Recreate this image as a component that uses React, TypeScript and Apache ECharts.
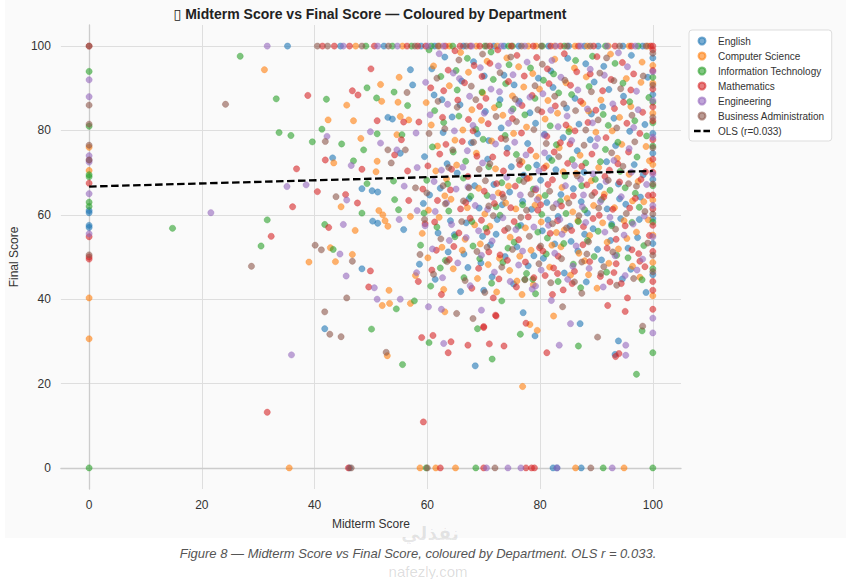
import React, { useEffect, useRef } from "react";
import * as echarts from "echarts";

const departments = [
  "English",
  "Computer Science",
  "Information Technology",
  "Mathematics",
  "Engineering",
  "Business Administration",
];
const deptColors = ["#1f77b4", "#ff7f0e", "#2ca02c", "#d62728", "#9467bd", "#8c564b"];

const xTicks = [0, 20, 40, 60, 80, 100];
const yTicks = [0, 20, 40, 60, 80, 100];

const englishPts: [number, number][] = [
  [0, 61], [0, 60.5], [0, 57.5], [0, 57],
  [46.2, 0], [82.3, 0], [83, 0], [87.3, 0],
  [35.2, 100], [57, 94.4], [57.4, 90.8], [53, 83.1], [53.8, 82.7], [43.2, 73.5], [48.4, 66.2], [50.2, 65.7],
  [51.2, 65.4], [50.3, 58.5], [51.2, 58], [55.2, 74.6], [55.8, 56.5], [48.4, 47.2], [41.8, 33], [68.5, 24.2],
  [70, 42.1], [77, 36.8], [79.1, 31.3], [87.1, 34.2], [93.9, 30.1], [93.3, 26.9], [94.6, 44.8],
  [61.2, 88.4], [63.5, 72.1], [64.8, 55.3], [66.1, 91.7], [67.4, 63.8], [68.9, 79.2], [69.5, 48.6], [70.3, 84.5],
  [71.8, 67.2], [72.4, 58.9], [73.6, 93.1], [74.2, 75.8], [75.9, 52.4], [76.3, 86.9], [77.1, 69.4], [78.5, 61.3],
  [79.2, 81.7], [80.4, 56.2], [81.6, 73.5], [82.3, 90.2], [83.7, 64.8], [84.1, 78.3], [85.5, 53.7], [86.2, 87.6],
  [87.8, 70.1], [88.4, 60.4], [89.1, 83.9], [90.6, 66.7], [91.3, 95.2], [92.7, 57.8], [93.4, 76.4], [94.8, 88.1],
  [95.2, 62.5], [96.7, 71.9], [97.3, 54.6], [98.6, 81.4], [60.4, 64.7], [62.8, 79.5], [65.3, 69.9], [66.9, 58.1],
  [68.2, 96.3], [70.7, 73.2], [71.2, 52.9], [73.1, 80.6], [74.6, 65.4], [75.4, 90.8], [77.8, 76.9], [78.9, 50.3],
  [80.1, 68.2], [81.9, 94.1], [83.2, 59.6], [84.7, 85.3], [86.6, 75.2], [87.3, 63.1], [89.6, 91.5], [90.2, 51.8],
  [91.8, 72.6], [93.9, 67.3], [95.9, 79.8], [97.8, 64.2], [99.1, 92.6], [59.5, 73.8], [61.9, 55.7], [63.1, 97.4],
  [64.4, 83.2], [67.8, 77.1], [69.2, 61.6], [72.9, 87.3], [76.6, 57.5], [79.7, 92.4], [82.8, 70.7], [85.9, 66.2],
  [88.9, 77.8], [91.1, 85.6], [94.3, 59.1], [96.2, 97.8], [98.3, 69.5], [62.3, 66.3], [65.8, 86.1], [70.1, 92.9],
  [74.9, 71.4], [78.2, 84.2], [81.2, 62.9], [84.9, 97.1], [87.9, 55.4], [92.2, 89.7], [95.6, 52.1], [60.8, 94.6],
  [66.5, 50.7], [73.3, 62.4], [80.8, 79.1], [86.9, 81.5], [93.1, 82.9],
  [58.6, 48.3], [61.4, 44.7], [63.7, 51.2], [65.9, 41.8], [67.2, 47.5], [69.8, 54.9], [71.5, 45.3], [73.8, 50.1],
  [75.3, 43.6], [77.9, 47.9], [80.6, 49.7], [82.6, 53.1], [84.3, 46.2], [86.7, 51.4], [88.2, 44.1], [90.9, 49.3],
  [92.5, 53.9], [96.1, 47.1], [98.8, 41.6], [59.3, 62.7], [64.1, 58.6], [68.4, 66.9], [72.2, 55.4], [76.9, 63.2],
  [81.4, 58.8], [85.3, 57.3], [89.4, 56.7], [94.1, 63.8], [97.6, 58.9], [62.6, 87.3], [70.9, 77.6], [79.4, 71.8],
  [88.1, 95.8], [91.9, 61.4],
  [44.6, 100], [52.3, 100], [58.9, 100], [66.4, 100], [71.8, 100], [76.2, 100], [81.5, 100], [85.1, 100],
  [90.3, 100], [94.7, 100], [98.2, 100], [61.3, 100], [73.6, 100], [87.9, 100],
  [100, 97.2], [100, 88.5], [100, 79.3], [100, 68.4], [100, 59.1], [100, 53.2], [100, 45.8], [100, 74.6],
];

const csPts: [number, number][] = [
  [0, 76], [0, 70.5], [0, 40.3], [0, 30.6],
  [35.5, 0], [58.7, 0], [61.5, 0], [65, 0], [86.3, 0], [94.9, 0],
  [31.1, 94.4], [45.7, 86], [51.7, 90.9], [51.9, 86.9], [55, 92.6], [54.8, 86.7], [46.9, 82.3], [42.4, 82.5],
  [48.2, 78.1], [43.4, 72.3], [51.1, 72.7], [50.9, 70.2], [44.7, 61.9], [51.4, 61], [52.1, 60], [47.2, 56.3],
  [52.5, 58.6], [55.2, 83.3], [56.7, 82.5], [54.6, 79], [57, 59.6], [53, 57.3], [39, 48.8], [42.8, 52.2],
  [43.7, 48.9], [46.7, 50.6], [52.9, 26.6], [52, 38.5], [53.3, 39], [53.2, 42.1], [57, 39], [63.1, 37],
  [78.2, 34], [79.5, 32.6], [76.9, 19.3], [82.4, 36], [75.9, 44.3], [76.8, 41.1], [88.6, 45.8], [96.4, 47.8],
  [60.7, 81.3], [62.1, 59.4], [63.9, 90.6], [65.2, 71.8], [66.7, 54.2], [67.9, 84.9], [69.1, 66.3], [70.6, 96.4],
  [71.4, 77.5], [72.8, 49.7], [73.9, 62.8], [75.1, 88.2], [76.8, 72.6], [77.4, 56.9], [78.7, 93.5], [79.8, 64.1],
  [80.9, 82.7], [82.1, 52.8], [83.4, 75.9], [84.6, 91.3], [85.8, 60.7], [86.4, 69.8], [87.6, 86.4], [88.8, 55.1],
  [89.9, 79.6], [91.4, 64.9], [92.5, 98.1], [93.7, 73.4], [94.9, 58.6], [96.1, 85.7], [97.4, 67.9], [98.8, 76.2],
  [61.5, 70.4], [64.2, 63.7], [65.9, 98.5], [68.4, 57.6], [69.8, 88.9], [72.1, 70.9], [73.4, 83.6], [75.7, 61.4],
  [76.2, 95.1], [78.1, 68.7], [80.2, 58.3], [81.4, 87.1], [83.9, 66.5], [85.2, 80.4], [86.9, 50.9], [88.2, 92.7],
  [90.4, 71.2], [91.9, 53.5], [94.1, 83.1], [95.8, 69.6], [97.9, 91.4], [99.2, 58.8], [59.8, 86.6], [62.6, 52.3],
  [64.9, 77.7], [67.3, 93.8], [70.2, 60.2], [71.9, 85.4], [74.7, 54.7], [77.6, 80.8], [79.3, 73.9], [82.6, 96.9],
  [84.3, 56.4], [87.1, 74.1], [89.5, 62.2], [92.8, 79.9], [96.4, 63.3], [98.1, 96.2], [61.1, 95.3], [63.4, 68.5],
  [66.3, 80.1], [68.7, 74.6], [72.6, 65.2], [75.3, 79.3], [79.9, 89.8], [81.1, 71.6], [84.8, 63.9], [88.6, 84.6],
  [93.2, 61.7], [95.3, 92.3], [97.1, 55.9], [60.2, 61.1], [69.4, 53.1], [74.1, 97.2], [78.4, 51.6], [83.1, 84.1],
  [86.1, 94.8], [90.8, 87.2], [94.5, 76.7], [99.4, 72.8],
  [57.9, 45.6], [60.1, 49.8], [62.9, 42.3], [64.6, 47.2], [66.2, 51.6], [68.9, 44.9], [70.8, 48.2], [72.3, 41.7],
  [74.6, 46.8], [76.4, 50.2], [78.8, 43.4], [81.7, 47.6], [83.7, 52.4], [85.4, 45.7], [87.9, 49.1], [90.1, 42.6],
  [92.2, 48.5], [93.9, 51.9], [97.7, 45.2], [59.1, 55.6], [63.1, 64.5], [67.1, 61.7], [71.1, 57.3], [74.4, 66.8],
  [79.1, 62.3], [82.9, 55.8], [86.7, 58.6], [91.1, 58.1], [95.4, 54.4], [98.4, 63.1], [61.8, 76.3], [69.6, 82.4],
  [77.1, 90.3], [84.1, 70.2], [89.1, 68.1],
  [47.3, 100], [55.6, 100], [62.1, 100], [68.7, 100], [72.4, 100], [77.9, 100], [82.6, 100], [88.4, 100],
  [92.1, 100], [95.8, 100], [99.1, 100], [63.9, 100], [79.3, 100], [86.2, 100],
  [100, 95.4], [100, 84.1], [100, 71.9], [100, 63.5], [100, 55.2], [100, 48.7], [100, 40.8], [100, 91.2],
];

const itPts: [number, number][] = [
  [0, 94], [0, 81], [0, 69.5], [0, 69], [0, 63], [0, 62], [0, 0],
  [59.8, 0], [68.6, 0], [91.2, 0], [100, 0],
  [26.8, 97.6], [33.2, 87.5], [33.7, 79.5], [35.8, 78.8], [39.6, 77.3], [14.8, 56.8], [31.6, 58.8], [30.5, 52.6],
  [42.1, 87.4], [49.3, 90.1], [51, 87.7], [54.1, 89.1], [56.5, 85.9], [41.3, 80.3], [44.8, 76.8], [51.1, 79.2],
  [48.7, 75.4], [46.9, 72.8], [49.3, 67.4], [48.4, 60.4], [41.8, 57.7], [55.5, 79], [54, 68], [54.2, 63.6],
  [54.9, 61.2], [43.3, 51.8], [50.1, 32.9], [55.6, 24.5], [54.5, 37.7], [57.7, 39.6], [60.3, 29.7], [71.5, 25.8],
  [68.9, 33], [73.2, 39.6], [76.5, 31.7], [86.8, 28.9], [97.1, 22.2], [78.7, 44.7], [77.3, 44.7],
  [60.9, 76.1], [62.4, 92.8], [63.8, 60.9], [65.6, 83.4], [66.4, 68.7], [68.1, 52.6], [69.7, 89.1], [70.9, 71.4],
  [72.2, 61.9], [73.8, 78.8], [74.5, 95.6], [76.1, 57.3], [77.3, 83.7], [78.8, 66.1], [80.6, 91.9], [81.3, 54.5],
  [82.9, 76.6], [84.4, 69.2], [85.6, 88.5], [86.8, 58.4], [88.1, 72.3], [89.3, 97.6], [90.9, 63.6], [92.1, 81.2],
  [93.6, 50.4], [94.2, 70.3], [95.9, 86.8], [97.6, 61.8], [98.9, 78.7], [59.9, 68.2], [61.7, 57.1], [64.6, 74.9],
  [67.1, 97.1], [68.6, 80.3], [70.4, 56.8], [71.7, 92.1], [73.2, 67.6], [75.8, 74.3], [76.9, 62.4], [79.1, 87.6],
  [80.3, 60.1], [82.4, 93.4], [83.6, 63.2], [85.1, 79.7], [87.4, 66.9], [88.7, 90.4], [90.3, 56.1], [91.6, 75.5],
  [93.3, 95.9], [95.1, 66.4], [96.8, 82.3], [98.4, 52.7], [61.3, 84.7], [63.2, 49.2], [65.1, 94.2], [67.7, 64.4],
  [69.9, 77.9], [72.7, 86.1], [74.3, 52.1], [77.9, 71.2], [81.8, 81.1], [84.2, 53.2], [86.3, 96.6], [89.8, 68.4],
  [92.4, 65.8], [94.7, 91.2], [97.2, 73.7], [60.3, 99.1], [66.8, 72.7], [71.3, 98.6], [75.2, 85.1], [79.6, 55.9],
  [83.3, 88.9], [87.9, 61.2], [91.2, 83.8], [96.3, 58.2], [62.9, 81.9], [70.6, 64.6], [78.3, 94.8], [85.7, 73.1],
  [93.8, 77.2], [99.3, 87.8],
  [58.8, 52.8], [60.6, 43.1], [62.3, 47.4], [64.9, 54.8], [66.5, 45.1], [69.3, 49.6], [71.4, 43.8], [73.4, 48.7],
  [75.4, 53.5], [77.6, 46.1], [79.2, 41.3], [81.1, 50.7], [83.2, 44.2], [85.9, 48.3], [87.2, 42.7], [89.6, 50.1],
  [91.8, 46.4], [95.6, 49.8], [98.1, 44.6], [59.4, 60.4], [63.6, 67.3], [67.9, 58.4], [72.9, 59.9], [76.3, 68.2],
  [80.9, 64.6], [84.6, 60.3], [88.4, 53.9], [92.7, 57.4], [96.9, 65.1], [65.3, 89.6], [73.9, 91.1], [82.1, 72.9],
  [90.7, 72.6],
  [49.1, 100], [53.8, 100], [60.7, 100], [64.5, 100], [70.2, 100], [75.1, 100], [80.4, 100], [84.3, 100],
  [91.6, 100], [97.4, 100], [57.2, 100], [74.4, 100],
  [100, 92.6], [100, 81.8], [100, 76.3], [100, 66.9], [100, 58.3], [100, 47.2], [100, 27.3], [100, 86.7], [98.1, 32.5],
];

const mathPts: [number, number][] = [
  [0, 67.5], [0, 54.8], [0, 50], [0, 49.5], [0, 100],
  [46, 0], [62.3, 0], [70, 0], [77.5, 0], [78.5, 0], [79, 0],
  [38.8, 88.3], [36.8, 70.9], [40.5, 65.5], [36.1, 61.9], [32.3, 54.9], [31.6, 13.2], [59.3, 10.9], [50, 94.6],
  [46.7, 89.4], [47.7, 88.4], [51.1, 82.3], [41.9, 73], [48.4, 70.8], [45.5, 64.8], [47.6, 62.8], [42.5, 57],
  [55.8, 82], [58.5, 82], [55.4, 77.8], [54.2, 74.2], [56.5, 70.4], [56.7, 63.4], [49.9, 46.7], [49.6, 42.9],
  [59, 30.9], [61, 31.4], [64.2, 29.9], [63.7, 27.3], [67.2, 29.1], [71, 29.4], [70, 33.3], [72.2, 36],
  [71.7, 40.3], [72.1, 36.2], [70, 33.5], [73.6, 28.9], [77.5, 34.3], [81.2, 27.3], [82.2, 41.1], [92, 38.5],
  [94, 27.1], [93.4, 26.4], [95.1, 37.1], [95.5, 40.3], [85.7, 43.7], [83.1, 46.1], [80.9, 45.6], [92.4, 44.1],
  [93.1, 46.3], [93.5, 48.4], [97.7, 49], [83.2, 50.2],
  [60.6, 90.1], [61.8, 63.4], [63.3, 76.7], [64.7, 52.5], [65.4, 87.2], [67.2, 69.1], [68.3, 95.4], [69.6, 58.7],
  [70.8, 81.6], [71.6, 73.7], [72.9, 50.5], [74.4, 91.6], [75.6, 66.8], [76.7, 79.4], [77.9, 59.5], [79.4, 97.3],
  [80.7, 71.1], [81.8, 55.6], [82.7, 85.8], [83.8, 62.1], [85.3, 76.8], [86.5, 93.9], [87.7, 57.2], [88.5, 81.9],
  [89.7, 65.3], [91.1, 89.4], [92.3, 70.6], [93.5, 54.2], [94.6, 96.1], [95.7, 74.9], [96.9, 63.9], [98.2, 84.3],
  [59.6, 57.9], [62.7, 83.1], [64.1, 65.9], [66.2, 77.4], [67.6, 59.2], [69.3, 85.7], [71.1, 95.9], [72.3, 67.4],
  [73.7, 56.3], [75.1, 82.8], [76.4, 71.9], [78.6, 88.3], [79.9, 52.2], [81.2, 78.6], [82.2, 68.3], [84.3, 98.2],
  [85.9, 64.5], [87.2, 86.9], [89.2, 74.4], [90.5, 59.9], [92.6, 92.1], [94.1, 67.8], [95.4, 81.7], [97.5, 50.8],
  [98.7, 70.2], [60.1, 71.6], [63.7, 94.3], [65.9, 61.4], [68.8, 73.9], [70.4, 87.6], [73.1, 78.1], [74.8, 61.7],
  [77.2, 92.9], [78.3, 75.3], [80.3, 84.4], [83.1, 58.6], [84.9, 72.2], [86.2, 79.9], [88.3, 67.1], [90.1, 97.5],
  [91.7, 78.3], [93.2, 85.2], [96.1, 89.6], [99.2, 64.6], [61.6, 51.6], [64.9, 98.9], [67.3, 82.6], [70.1, 65.6],
  [72.5, 99.1], [76.2, 54.1], [79.2, 65.9], [81.6, 91.1], [84.6, 81.3], [87.6, 52.9], [89.9, 84.8], [92.9, 61.3],
  [95.1, 57.4], [97.7, 79.3], [62.2, 74.4], [66.6, 91.3], [71.9, 62.7], [75.9, 97.8], [80.1, 62.4], [85.4, 90.7],
  [91.5, 69.1], [96.6, 93.4], [73.5, 70.4], [82.5, 74.9],
  [58.4, 44.2], [60.8, 46.9], [62.5, 41.1], [63.9, 49.4], [65.6, 55.7], [67.9, 42.6], [69.1, 47.3], [70.9, 51.2],
  [72.7, 44.8], [74.2, 49.2], [75.8, 42.9], [77.4, 48.8], [78.9, 45.1], [80.5, 51.4], [82.4, 47.4], [84.1, 42.2],
  [86.1, 46.6], [88.8, 48.9], [90.7, 45.4], [91.9, 52.1], [94.4, 43.7], [96.3, 51.7], [98.6, 47.7], [59.2, 66.1],
  [61.3, 58.3], [64.3, 70.8], [66.8, 62.9], [68.1, 79.9], [70.6, 55.9], [73.3, 64.9], [75.4, 58.4], [77.7, 68.6],
  [79.6, 61.1], [81.4, 67.2], [83.6, 77.1], [85.6, 56.3], [87.4, 71.5], [89.4, 59.1], [91.3, 64.2], [93.8, 72.1],
  [95.9, 61.6], [97.9, 68.4], [99.4, 55.1], [62.9, 89.4], [69.7, 92.8], [76.8, 85.9], [81.3, 94.6], [88.9, 93.4],
  [94.8, 86.7], [74.1, 74.6],
  [41.4, 100], [43.5, 100], [46.2, 100], [50.6, 100], [56.4, 100], [59.7, 100], [63.2, 100], [65.8, 100],
  [69.3, 100], [71.1, 100], [74.9, 100], [78.8, 100], [81.9, 100], [83.6, 100], [86.8, 100], [89.5, 100],
  [93.3, 100], [96.2, 100], [99.6, 100], [100, 100], [58.3, 100], [67.6, 100],
  [100, 99.1], [100, 94.2], [100, 89.8], [100, 85.6], [100, 82.3], [100, 77.8], [100, 73.2], [100, 70.1],
  [100, 64.7], [100, 61.4], [100, 57.5], [100, 51.3], [100, 44.2], [100, 42.1], [100, 37.6],
];

const engPts: [number, number][] = [
  [0, 92], [0, 88], [0, 74], [0, 73], [0, 72.5], [0, 65], [0, 55.5],
  [70.5, 0], [74.3, 0], [76.6, 0], [83, 0], [92.8, 0],
  [31.6, 100], [35.1, 66.7], [38.5, 67.1], [21.6, 60.5], [35.9, 26.8], [42.2, 78.6], [49.9, 79.7], [51.7, 77],
  [46.5, 71.7], [45.7, 63.5], [45.1, 57.7], [58, 79.4], [54.6, 75.4], [58.2, 71.2], [55.9, 66.8], [58.2, 61],
  [55, 58.9], [44.5, 50.7], [45.6, 45.5], [50.6, 42.7], [55.2, 40], [51.1, 40], [62.9, 29.5], [69.6, 37.4],
  [62.5, 37.6], [60.2, 38.2], [82, 39.7], [83.4, 29.1], [85.4, 34.2], [95.2, 29.1], [95.2, 26.7], [79.2, 43.1],
  [97.2, 46.9], [85.8, 47.8],
  [60.5, 83.7], [62.5, 70.6], [64.3, 57.7], [65.7, 92.3], [67.1, 75.2], [68.5, 62.2], [70.1, 84.1], [71.5, 53.8],
  [72.6, 95.3], [74.1, 68.9], [75.5, 77.2], [76.9, 51.4], [78.2, 87.9], [79.5, 63.6], [80.8, 74.7], [82.1, 96.6],
  [83.5, 58.9], [84.8, 83.4], [86.1, 71.7], [87.5, 61.9], [88.9, 94.5], [90.2, 78.1], [91.5, 55.9], [92.9, 86.3],
  [94.4, 64.3], [95.8, 75.7], [97.1, 89.3], [98.5, 59.7], [59.7, 91.4], [61.4, 60.8], [63.6, 86.2], [65.1, 66.1],
  [66.9, 54.6], [68.1, 81.2], [69.8, 72.3], [71.3, 89.8], [73.4, 59.3], [74.9, 84.6], [76.5, 64.7], [77.7, 96.2],
  [79.8, 70.4], [81.5, 57.5], [83.2, 80.9], [84.5, 66.9], [86.7, 89.6], [88.1, 58.2], [89.4, 69.7], [91.4, 93.1],
  [93.1, 72.9], [94.9, 55.2], [96.6, 80.7], [98.9, 67.2], [62.1, 98.2], [64.8, 79.9], [67.5, 88.1], [69.1, 56.2],
  [72.1, 76.8], [75.2, 93.2], [77.5, 74.2], [80.5, 88.7], [82.9, 62.6], [85.6, 77.6], [88.4, 85.1], [90.7, 63.1],
  [93.9, 98.4], [96.2, 70.1], [61.2, 67.9], [66.3, 71.3], [70.7, 61.3], [74.4, 81.7], [78.9, 57.1], [83.7, 92.6],
  [87.2, 68.4], [92.4, 59.4], [97.4, 84.9], [63.9, 53.9], [69.4, 94.9], [76.2, 86.4], [81.9, 84.8], [89.8, 76.3],
  [95.5, 95.1],
  [58.1, 46.3], [60.9, 51.9], [62.7, 45.1], [65.4, 48.6], [67.6, 43.2], [69.6, 50.4], [71.9, 46.4], [74.7, 44.2],
  [76.2, 48.1], [78.6, 42.4], [80.2, 46.9], [82.6, 50.9], [84.9, 44.7], [86.4, 52.6], [88.7, 47.3], [91.2, 42.9],
  [93.3, 50.3], [95.1, 45.6], [98.2, 49.5], [59.6, 57.4], [63.4, 62.8], [67.2, 66.6], [71.6, 64.2], [75.7, 56.5],
  [79.3, 66.2], [83.9, 55.4], [87.7, 64.7], [91.7, 67.9], [96.5, 57.8], [64.6, 93.6], [72.8, 89.2], [80.7, 78.9],
  [89.3, 81.8],
  [45.1, 100], [51.2, 100], [54.7, 100], [62.8, 100], [67.9, 100], [73.1, 100], [77.3, 100], [82.8, 100],
  [87.2, 100], [91.9, 100], [96.9, 100], [60.1, 100],
  [100, 93.9], [100, 87.1], [100, 78.4], [100, 69.6], [100, 62.2], [100, 54.8], [100, 32], [100, 35.5],
];

const baPts: [number, number][] = [
  [0, 100], [0, 86], [0, 81.5], [0, 76.5], [0, 73], [0, 50.5],
  [46.5, 0], [60, 0], [72, 0], [89, 0],
  [24.2, 86.2], [40.1, 52.8], [28.8, 47.8], [56.4, 89], [41.9, 77.4], [43.8, 64.3], [53, 75.4], [56.1, 75.4],
  [53.6, 72.3], [57.9, 66.4], [41.2, 51.7], [46.7, 49], [45.7, 40.3], [41.8, 37], [42.7, 31.7], [44.7, 31.1],
  [52.7, 27.4], [68.1, 35.4], [65.2, 36.6], [84, 38.2], [90.2, 31], [87.4, 41.4], [91.3, 47.7], [93.6, 43.3],
  [87.4, 48.8], [98.2, 33.6],
  [60.3, 79.3], [61.7, 92.4], [63.2, 62.6], [64.5, 75.4], [66.1, 58.4], [67.8, 90.5], [69.2, 70.8], [70.6, 52.3],
  [72.2, 83.3], [73.5, 64.1], [74.8, 97.4], [76.3, 72.9], [77.6, 61.1], [78.9, 80.2], [80.4, 95.7], [81.7, 65.6],
  [83.3, 73.8], [84.7, 56.9], [86.3, 84.7], [87.8, 76.5], [89.2, 64.6], [90.6, 93.6], [92.1, 68.2], [93.6, 80.6],
  [95.3, 60.3], [96.8, 77.3], [98.3, 92.9], [59.9, 65.2], [62.4, 54.3], [65.3, 85.5], [67.4, 66.4], [69.8, 98.1],
  [71.7, 59.8], [73.9, 77.9], [75.6, 87.4], [78.1, 54.9], [79.6, 84.9], [82.3, 61.7], [84.4, 91.9], [86.6, 69.2],
  [88.6, 53.6], [90.3, 82.5], [92.7, 74.7], [94.3, 89.9], [97.1, 66.8], [99.1, 53.3], [63.8, 71.2], [68.6, 87.3],
  [72.9, 93.7], [77.1, 67.9], [81.1, 76.9], [85.1, 62.8], [89.1, 89.2], [93.4, 56.6], [96.3, 83.6], [65.6, 96.7],
  [71.1, 72.1], [76.6, 59.4], [82.6, 88.1], [88.1, 80.1], [94.7, 71.5], [61.9, 86.9], [70.3, 68.1], [80.1, 52.6],
  [91.8, 97.2],
  [58.7, 50.6], [61.1, 45.9], [63.5, 48.9], [66.7, 44.4], [68.8, 51.3], [70.2, 41.6], [73.2, 47.6], [75.1, 51.8],
  [77.3, 44.6], [79.8, 48.4], [81.9, 43.9], [83.8, 49.6], [86.1, 44.1], [88.3, 50.7], [90.8, 46.1], [92.9, 51.2],
  [96.6, 44.9], [59.5, 58.9], [62.8, 66.9], [66.4, 63.3], [70.9, 62.1], [74.3, 56.8], [78.4, 64.9], [82.2, 57.9],
  [86.9, 59.8], [90.4, 61.6], [95.7, 67.4], [98.6, 60.8], [63.1, 80.4], [68.2, 77.2], [75.8, 82.1], [84.2, 86.3],
  [93.1, 91.8], [79.1, 90.6],
  [40.5, 100], [42.3, 100], [48.4, 100], [53.1, 100], [57.8, 100], [61.9, 100], [66.9, 100], [70.5, 100],
  [76.7, 100], [80.2, 100], [84.8, 100], [88.9, 100], [94.1, 100], [98.8, 100],
  [100, 98.3], [100, 90.7], [100, 83.1], [100, 75.9], [100, 67.3], [100, 60.2], [100, 50.4], [100, 46.5],
];

const deptPoints = [englishPts, csPts, itPts, mathPts, engPts, baPts];

const olsLabel = "OLS (r=0.033)";
const olsLine: [number, number][] = [
  [0, 66.7],
  [100, 70.4],
];

const titleText = "▯ Midterm Score vs Final Score — Coloured by Department";
const captionText = "Figure 8 — Midterm Score vs Final Score, coloured by Department. OLS r = 0.033.";
const watermarkAr = "نفذلي";
const watermarkEn = "nafezly.com";

const FONT = "'Liberation Sans', Arial, 'DejaVu Sans', sans-serif";

export default function App() {
  const ref = useRef<HTMLDivElement>(null);

  useEffect(() => {
    if (!ref.current) return;
    const chart = echarts.init(ref.current, null, { renderer: "svg" });

    const scatterSeries = departments.map((name, i) => ({
      name,
      type: "scatter",
      data: deptPoints[i],
      symbol: "circle",
      symbolSize: 6.3,
      itemStyle: {
        color: deptColors[i],
        opacity: 0.6,
        borderColor: deptColors[i],
        borderWidth: 0.5,
      },
      z: 2,
    }));

    const option: any = {
      animation: false,
      backgroundColor: "#fafafa",
      textStyle: { fontFamily: FONT },
      grid: { left: 60, top: 25, width: 621, height: 464, containLabel: false },
      legend: {
        orient: "vertical",
        left: 689,
        top: 30,
        padding: [6, 7, 5, 5],
        itemGap: 5,
        itemWidth: 16,
        itemHeight: 7,
        symbolKeepAspect: true,
        backgroundColor: "rgba(255,255,255,0.85)",
        borderColor: "#dddddd",
        borderWidth: 1,
        borderRadius: 3,
        textStyle: { fontSize: 10, color: "#333", fontFamily: FONT, padding: [0, 0, 0, 3] },
        data: [
          ...departments.map((d) => ({ name: d, icon: "circle" })),
          { name: olsLabel, icon: "path://M0 0H7V2.6H0Z M10 0H17V2.6H10Z" },
        ],
      },
      xAxis: {
        type: "value",
        min: -5,
        max: 105,
        splitNumber: 5,
        name: "Midterm Score",
        nameLocation: "middle",
        nameGap: 29,
        nameTextStyle: { fontSize: 12, color: "#333", fontFamily: FONT },
        axisLine: { show: true, lineStyle: { color: "#cccccc", width: 1.3 } },
        axisTick: { show: false },
        axisLabel: {
          fontSize: 12,
          color: "#333",
          margin: 10,
          showMinLabel: false,
          showMaxLabel: false,
          formatter: (v: number) => (xTicks.includes(v) ? String(v) : ""),
        },
        splitLine: { show: true, showMinLine: false, showMaxLine: false, lineStyle: { color: "#dedede", width: 1 } },
      },
      yAxis: {
        type: "value",
        min: -5,
        max: 105,
        splitNumber: 5,
        name: "Final Score",
        nameLocation: "middle",
        nameGap: 36,
        nameRotate: 90,
        nameTextStyle: { fontSize: 12, color: "#333", fontFamily: FONT },
        axisLine: { show: true, lineStyle: { color: "#cccccc", width: 1.3 } },
        axisTick: { show: false },
        axisLabel: {
          fontSize: 12,
          color: "#333",
          margin: 10,
          showMinLabel: false,
          showMaxLabel: false,
          formatter: (v: number) => (yTicks.includes(v) ? String(v) : ""),
        },
        splitLine: { show: true, showMinLine: false, showMaxLine: false, lineStyle: { color: "#dedede", width: 1 } },
      },
      series: [
        ...scatterSeries,
        {
          name: olsLabel,
          type: "line",
          data: olsLine,
          symbol: "none",
          lineStyle: { color: "#000", width: 2.3, type: [7.5, 3.5] },
          itemStyle: { color: "#000" },
          z: 10,
        },
      ],
      graphic: [
        { type: "rect", shape: { x: 0, y: 538, width: 851, height: 41 }, style: { fill: "#ffffff" }, silent: true },
        { type: "rect", shape: { x: 0, y: 0, width: 5, height: 538 }, style: { fill: "#ffffff" }, silent: true },
        { type: "rect", shape: { x: 846, y: 0, width: 5, height: 538 }, style: { fill: "#ffffff" }, silent: true },
        {
          type: "text",
          x: 370,
          y: 14,
          style: {
            text: titleText,
            textAlign: "center",
            textVerticalAlign: "middle",
            font: `bold 14px ${FONT}`,
            fill: "#222",
          },
        },
        {
          type: "text",
          x: 430,
          y: 533,
          style: {
            text: watermarkAr,
            textAlign: "center",
            textVerticalAlign: "middle",
            font: `bold 19px 'DejaVu Sans', sans-serif`,
            fill: "rgba(0,0,0,0.09)",
          },
        },
        {
          type: "text",
          x: 428,
          y: 571,
          style: {
            text: watermarkEn,
            textAlign: "center",
            textVerticalAlign: "middle",
            font: `15px ${FONT}`,
            fill: "rgba(0,0,0,0.14)",
          },
        },
        {
          type: "text",
          x: 418,
          y: 553,
          style: {
            text: captionText,
            textAlign: "center",
            textVerticalAlign: "middle",
            font: `italic 13px ${FONT}`,
            fill: "#555",
          },
        },
      ],
    };

    chart.setOption(option);
    return () => chart.dispose();
  }, []);

  return (
    <div
      ref={ref}
      style={{ position: "absolute", left: 0, top: 0, width: 851, height: 579, background: "#fff" }}
    />
  );
}
